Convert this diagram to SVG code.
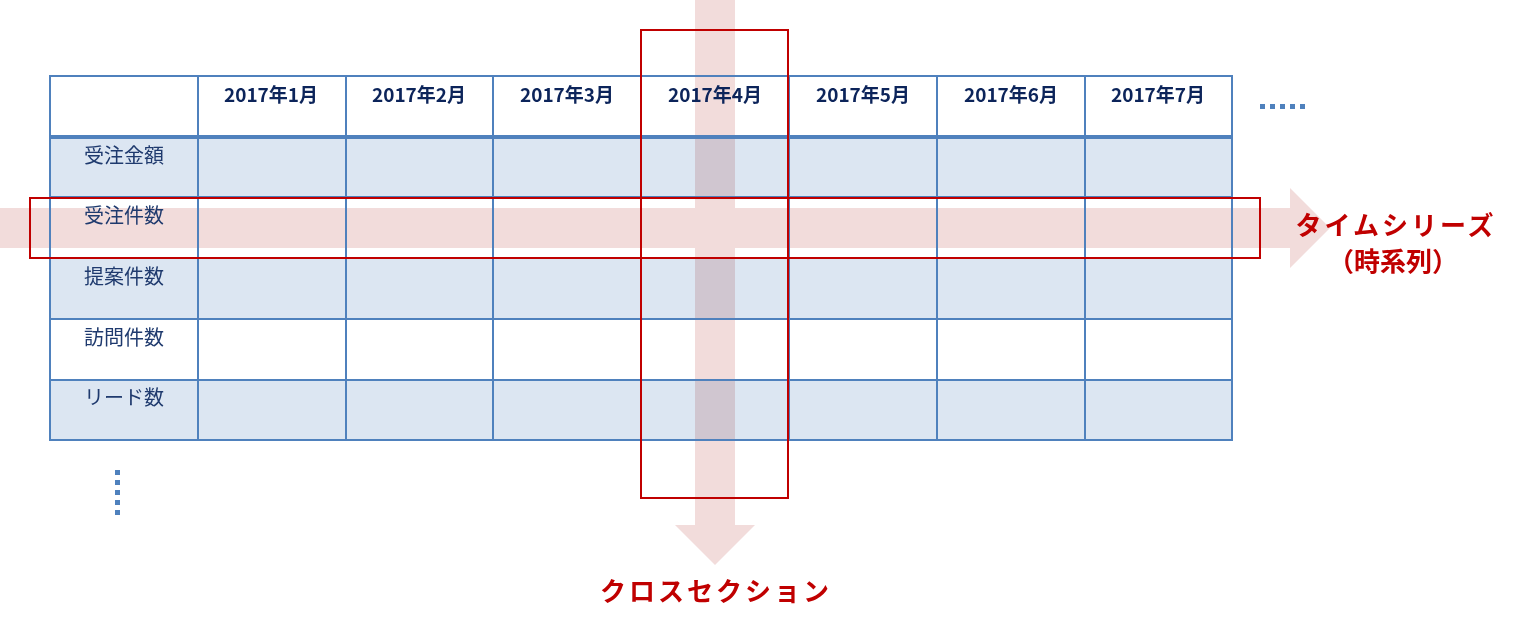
<svg xmlns="http://www.w3.org/2000/svg" width="1515" height="629" viewBox="0 0 1515 629">
<style>
.blue{fill:#dce6f2}
.white{fill:#ffffff}
.grid{stroke:#4f81bd;stroke-width:2;fill:none}
.thick{stroke:#4f81bd;stroke-width:4}
.hl{fill:none;stroke:#c00000;stroke-width:2}
.band{fill:#f2dcdb;mix-blend-mode:multiply}
.hdr{font-family:"Noto Sans CJK JP","Noto Sans",sans-serif;font-weight:bold;font-size:19px;fill:#0c245a;text-anchor:middle}
.lbl{font-family:"Noto Sans CJK JP","Noto Sans",sans-serif;font-size:20px;fill:#1f3a6e;text-anchor:middle}
.red{font-family:"Noto Sans CJK JP","Noto Sans",sans-serif;font-weight:bold;font-size:26px;fill:#c00000;text-anchor:middle}
.dot{fill:#4f81bd}
</style>
<rect width="1515" height="629" fill="#ffffff"/>
<g id="table">
  <rect class="white" x="50" y="76" width="1182" height="61"/>
  <rect class="blue" x="50" y="137" width="1182" height="60"/>
  <rect class="white" x="50" y="197" width="1182" height="61"/>
  <rect class="blue" x="50" y="258" width="1182" height="61"/>
  <rect class="white" x="50" y="319" width="1182" height="61"/>
  <rect class="blue" x="50" y="380" width="1182" height="60"/>
</g>
<g id="arrows">
  <path class="band" d="M0 208 H695 V0 H735 V208 H1290 V188 L1330 228 L1290 268 V248 H735 V525 H755 L715 565 L675 525 H695 V248 H0 Z"/>
</g>
<g id="grid">
  <rect class="grid" x="50" y="76" width="1182" height="364"/>
  <path class="grid" d="M198 76V440M346 76V440M493 76V440M641 76V440M789 76V440M937 76V440M1085 76V440"/>
  <path class="grid" d="M50 197H1232M50 258H1232M50 319H1232M50 380H1232"/>
  <line class="thick" x1="50" y1="137" x2="1232" y2="137"/>
</g>
<g id="highlights">
  <rect id="timeseries-box" class="hl" x="30" y="198" width="1230" height="60"/>
  <rect id="crosssection-box" class="hl" x="641" y="30" width="147" height="468"/>
</g>
<g id="headers">
  <text class="hdr" x="271" y="102">2017年1月</text>
  <text class="hdr" x="419" y="102">2017年2月</text>
  <text class="hdr" x="567" y="102">2017年3月</text>
  <text class="hdr" x="715" y="102">2017年4月</text>
  <text class="hdr" x="863" y="102">2017年5月</text>
  <text class="hdr" x="1011" y="102">2017年6月</text>
  <text class="hdr" x="1158" y="102">2017年7月</text>
</g>
<g id="labels">
  <text class="lbl" x="124" y="163">受注金額</text>
  <text class="lbl" x="124" y="223">受注件数</text>
  <text class="lbl" x="124" y="284">提案件数</text>
  <text class="lbl" x="124" y="345">訪問件数</text>
  <text class="lbl" x="124" y="405">リード数</text>
</g>
<g id="dots">
  <rect class="dot" x="1260" y="104" width="5" height="5"/>
  <rect class="dot" x="1270" y="104" width="5" height="5"/>
  <rect class="dot" x="1280" y="104" width="5" height="5"/>
  <rect class="dot" x="1290" y="104" width="5" height="5"/>
  <rect class="dot" x="1300" y="104" width="5" height="5"/>
  <rect class="dot" x="115" y="470" width="5" height="5"/>
  <rect class="dot" x="115" y="480" width="5" height="5"/>
  <rect class="dot" x="115" y="490" width="5" height="5"/>
  <rect class="dot" x="115" y="500" width="5" height="5"/>
  <rect class="dot" x="115" y="510" width="5" height="5"/>
</g>
<g id="timeseries-label">
  <text class="red" x="1396" y="235" letter-spacing="3">タイムシリーズ</text>
  <text class="red" x="1393" y="271">（時系列）</text>
</g>
<g id="crosssection-label">
  <text class="red" x="716" y="601" font-size="25" letter-spacing="3">クロスセクション</text>
</g>
</svg>
